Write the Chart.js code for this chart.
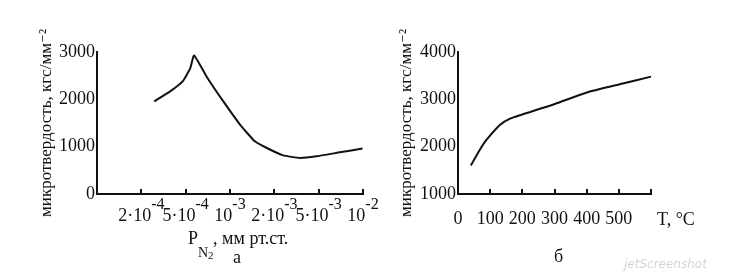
<!DOCTYPE html>
<html>
<head>
<meta charset="utf-8">
<script src="https://cdn.jsdelivr.net/npm/chart.js@4"></script>
<style>
  body { margin: 0; background: #fff; width: 738px; height: 278px; overflow: hidden; position: relative; }
  canvas { position: absolute; top: 0; }
  #chartA { left: 0; }
  #chartB { left: 370px; }
  .wm { position: absolute; left: 624px; top: 257px; font: italic 12px "DejaVu Sans"; color: #d4d4d4; }
</style>
</head>
<body>
<canvas id="chartA" width="400" height="278"></canvas>
<canvas id="chartB" width="368" height="278"></canvas>
<div class="wm">jetScreenshot</div>
<script>
// panel а: microhardness vs nitrogen pressure (x = position along the pressure scale)
let pressPos = [1.29, 1.65, 1.93, 2.10, 2.19, 2.47, 2.85, 3.23, 3.56, 3.83, 4.20, 4.58, 4.95, 5.48, 5.99];
let hardA = [1956, 2168, 2379, 2648, 2928, 2484, 1956, 1462, 1112, 972, 816, 761, 796, 881, 959];
let pressBase = ['2·10', '5·10', '10', '2·10', '5·10', '10'];
let pressExp = ['-4', '-4', '-3', '-3', '-3', '-2'];

// panel б: microhardness vs temperature
let tempC = [40, 68, 89, 131, 162, 198, 301, 405, 509, 600];
let hardB = [1604, 1936, 2147, 2464, 2591, 2675, 2902, 3155, 3330, 3480];

let yTitle = 'микротвердость, кгс/мм⁻²';
let ink = '#111';
let serif = '"Liberation Serif", "DejaVu Serif", serif';

function axisOpts(extra) {
  return Object.assign({
    border: { color: ink, width: 2 }
  }, extra);
}

let panelA = {
  id: 'panelA',
  afterDraw(chart) {
    let ctx = chart.ctx, xs = chart.scales.x, a = chart.chartArea;
    ctx.save();
    ctx.fillStyle = ink;
    ctx.textBaseline = 'middle';
    ctx.textAlign = 'left';
    pressBase.forEach((b, i) => {
      let px = xs.getPixelForValue(i + 1);
      ctx.font = '18px ' + serif;
      let wb = ctx.measureText(b).width;
      ctx.font = '16px ' + serif;
      let we = ctx.measureText(pressExp[i]).width;
      let x0 = px - (wb + we) / 2;
      ctx.font = '18px ' + serif;
      ctx.fillText(b, x0, a.bottom + 22);
      ctx.font = '16px ' + serif;
      ctx.fillText(pressExp[i], x0 + wb, a.bottom + 11);
    });
    // axis title P_N2, мм рт.ст.
    let tx = a.left + 91;
    ctx.font = '18px ' + serif;
    ctx.fillText('P', tx, a.bottom + 45);
    tx += ctx.measureText('P').width;
    ctx.font = '14px ' + serif;
    ctx.fillText('N', tx, a.bottom + 59);
    let wn = ctx.measureText('N').width;
    ctx.font = '11px ' + serif;
    ctx.fillText('2', tx + wn, a.bottom + 62);
    ctx.font = '18px ' + serif;
    ctx.fillText(', мм рт.ст.', tx + wn + 5, a.bottom + 45);
    ctx.textAlign = 'center';
    ctx.fillText('а', (a.left + a.right) / 2 + 7, a.bottom + 64);
    ctx.restore();
  }
};

let panelB = {
  id: 'panelB',
  afterDraw(chart) {
    let ctx = chart.ctx, a = chart.chartArea;
    ctx.save();
    ctx.fillStyle = ink;
    ctx.textBaseline = 'middle';
    ctx.font = '18px ' + serif;
    ctx.textAlign = 'left';
    ctx.fillText('T, °C', a.right + 6, a.bottom + 26);
    ctx.textAlign = 'center';
    ctx.fillText('б', (a.left + a.right) / 2 + 4, a.bottom + 63);
    ctx.restore();
  }
};

let commonPlugins = { legend: { display: false }, tooltip: { enabled: false } };
let yTicks = { stepSize: 1000, padding: 2, color: ink, font: { family: serif, size: 18 }, callback: v => String(v) };
let yTitleOpts = { display: true, text: yTitle, color: ink, padding: 0, font: { family: serif, size: 17 } };

new Chart(document.getElementById('chartA'), {
  type: 'line',
  data: {
    datasets: [{
      data: pressPos.map((x, i) => ({ x: x, y: hardA[i] })),
      borderColor: ink, borderWidth: 2, pointRadius: 0, tension: 0.12, clip: false
    }]
  },
  options: {
    responsive: false, animation: false,
    plugins: commonPlugins,
    layout: { padding: { left: 36, top: 52, right: 37, bottom: 0 } },
    scales: {
      x: axisOpts({
        type: 'linear', min: 0, max: 6,
        afterFit: s => { s.height = 84; },
        ticks: { display: false, stepSize: 1 },
        grid: { drawOnChartArea: false, tickLength: -5, color: ink, lineWidth: 2 }
      }),
      y: axisOpts({
        min: 0, max: 3000,
        afterFit: s => { s.width = 61; },
        ticks: yTicks,
        grid: { display: false, drawTicks: false },
        title: yTitleOpts
      })
    }
  },
  plugins: [panelA]
});

new Chart(document.getElementById('chartB'), {
  type: 'line',
  data: {
    datasets: [{
      data: tempC.map((x, i) => ({ x: x, y: hardB[i] })),
      borderColor: ink, borderWidth: 2, pointRadius: 0, tension: 0.2, clip: false
    }]
  },
  options: {
    responsive: false, animation: false,
    plugins: commonPlugins,
    layout: { padding: { left: 26, top: 52, right: 87, bottom: 0 } },
    scales: {
      x: axisOpts({
        type: 'linear', min: 0, max: 600,
        afterFit: s => { s.height = 84; },
        ticks: { stepSize: 100, padding: 19, maxRotation: 0, color: ink, font: { family: serif, size: 18 },
                 callback: v => v === 600 ? '' : String(v) },
        grid: { drawOnChartArea: false, tickLength: -5, color: ink, lineWidth: 2 }
      }),
      y: axisOpts({
        min: 1000, max: 4000,
        afterFit: s => { s.width = 62; },
        ticks: yTicks,
        grid: { display: false, drawTicks: false },
        title: yTitleOpts
      })
    }
  },
  plugins: [panelB]
});
</script>
</body>
</html>
